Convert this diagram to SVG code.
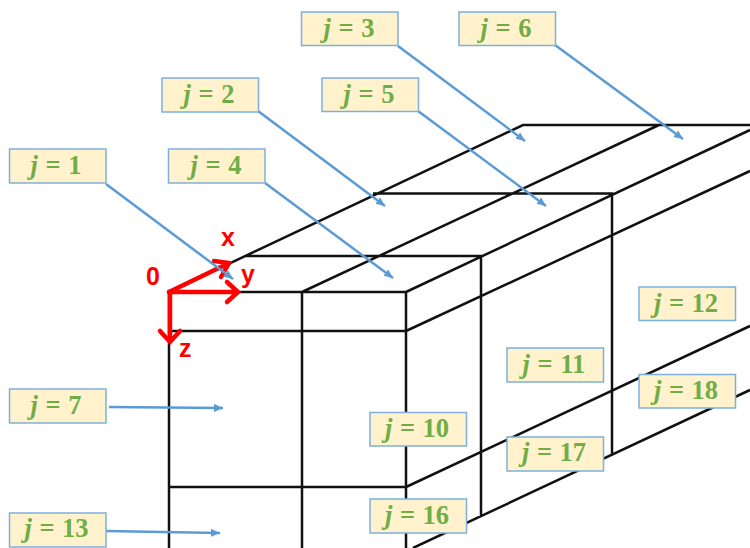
<svg xmlns="http://www.w3.org/2000/svg" width="750" height="548" viewBox="0 0 750 548">
<style>
.e{stroke:#111;stroke-width:2.500;fill:none}
.a{stroke:#5b9bd5;stroke-width:2.500;fill:none;marker-end:url(#h)}
.r{stroke:#f00;stroke-width:4.500;fill:none;stroke-linecap:round;stroke-linejoin:miter}
.b{fill:#fff2cc;stroke:#7eb0de;stroke-width:1.500}
.t{font-family:"Liberation Serif",serif;font-weight:bold;font-size:26.500px;word-spacing:1px;fill:#70ad47;text-anchor:middle}
.t tspan{font-style:italic}
.l{font-family:"Liberation Sans",sans-serif;font-weight:bold;font-size:25px;fill:#f00}
</style>
<defs>
<marker id="h" markerUnits="userSpaceOnUse" markerWidth="10" markerHeight="9" refX="9" refY="4" orient="auto"><path d="M0 0L9 4L0 8Z" fill="#5b9bd5"/></marker>
</defs>
<rect width="750" height="548" fill="#fff"/>
<g id="frame">
<path class="e" d="M169 292L523 125H750M245 256H481V517M373 193.500H612V455M169 292H406V548M169 292V548M302 292V548M169 331H406M169 487H406M302 292L659 125M406 292L750 130M406 331L750 171M406 487L750 326M413 548L750 390"/>
</g>
<g id="axes">
<path class="r" d="M169 292L227 264M214 261L229 263L221 277"/>
<path class="r" d="M169 292H237M227 282L238 292L227 302"/>
<path class="r" d="M170 292V341M160 331L170 342L180 331"/>
<text class="l" x="146" y="285">0</text>
<text class="l" x="221" y="246">x</text>
<text class="l" x="241" y="283">y</text>
<text class="l" x="179" y="357">z</text>
</g>
<g id="connectors">
<path class="a" d="M106 184L233 279"/>
<path class="a" d="M258 111L385 206"/>
<path class="a" d="M398 46L525 141"/>
<path class="a" d="M265 183L393 278"/>
<path class="a" d="M418 111L546 206"/>
<path class="a" d="M555 45L683 139"/>
<path class="a" d="M109 407L223 408"/>
<path class="a" d="M106 531L220 533"/>
</g>
<g id="j1"><rect class="b" x="9.500" y="149" width="96.500" height="34"/><text class="t" x="56" y="174"><tspan>j</tspan> = 1</text></g>
<g id="j2"><rect class="b" x="162" y="78" width="96.500" height="34"/><text class="t" x="209" y="103"><tspan>j</tspan> = 2</text></g>
<g id="j3"><rect class="b" x="301.500" y="12" width="96.500" height="33.500"/><text class="t" x="349" y="36.500"><tspan>j</tspan> = 3</text></g>
<g id="j4"><rect class="b" x="168.500" y="149" width="96.500" height="34"/><text class="t" x="216" y="174"><tspan>j</tspan> = 4</text></g>
<g id="j5"><rect class="b" x="322" y="78" width="96.500" height="33.500"/><text class="t" x="369" y="103"><tspan>j</tspan> = 5</text></g>
<g id="j6"><rect class="b" x="459" y="12" width="96.500" height="33.500"/><text class="t" x="506" y="36.500"><tspan>j</tspan> = 6</text></g>
<g id="j7"><rect class="b" x="9.500" y="389" width="96.500" height="34"/><text class="t" x="56" y="414"><tspan>j</tspan> = 7</text></g>
<g id="j10"><rect class="b" x="370" y="412.500" width="96.500" height="33.500"/><text class="t" x="417" y="437"><tspan>j</tspan> = 10</text></g>
<g id="j11"><rect class="b" x="507" y="348" width="96.500" height="34"/><text class="t" x="554" y="373"><tspan>j</tspan> = 11</text></g>
<g id="j12"><rect class="b" x="639" y="287" width="96.500" height="33.500"/><text class="t" x="686" y="312"><tspan>j</tspan> = 12</text></g>
<g id="j13"><rect class="b" x="9.500" y="513" width="96.500" height="34"/><text class="t" x="56.500" y="537"><tspan>j</tspan> = 13</text></g>
<g id="j16"><rect class="b" x="370" y="499" width="96.500" height="34"/><text class="t" x="417" y="524"><tspan>j</tspan> = 16</text></g>
<g id="j17"><rect class="b" x="507" y="437" width="96.500" height="34"/><text class="t" x="554" y="461"><tspan>j</tspan> = 17</text></g>
<g id="j18"><rect class="b" x="639" y="374.500" width="96.500" height="33.500"/><text class="t" x="686" y="399"><tspan>j</tspan> = 18</text></g>
</svg>
